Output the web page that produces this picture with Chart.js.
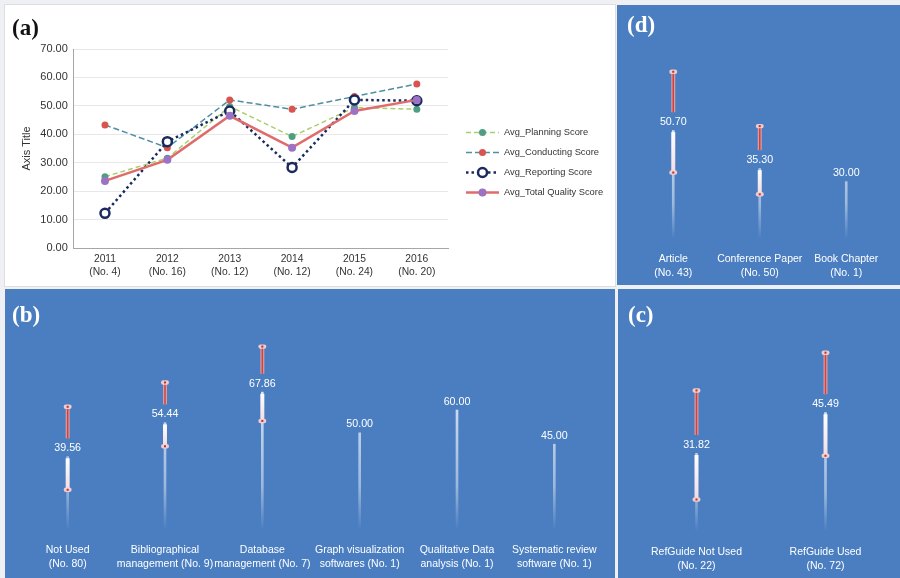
<!DOCTYPE html>
<html>
<head>
<meta charset="utf-8">
<script src="https://cdn.jsdelivr.net/npm/chart.js@4"></script>
<style>
  body { margin: 0; width: 900px; height: 578px; position: relative; overflow: hidden; background: #eef0f3; }
  .panel { position: absolute; }
  .panel canvas { position: absolute; left: 0; top: 0; }
  .blue { background: #4a7ec1; }
  .tag { position: absolute; font-family: "Liberation Serif", "Times New Roman", serif; font-weight: bold; font-size: 23px; line-height: 1; color: #fff; }
</style>
</head>
<body>
<div class="panel" style="left:5px;top:5px;width:610px;height:281px;background:#fff;box-shadow:0 0 0 1px #dedede">
  <canvas id="chartA" width="610" height="281"></canvas>
  <div class="tag" style="left:7px;top:11px;color:#111">(a)</div>
</div>
<div class="panel blue" style="left:617px;top:5px;width:283px;height:280px">
  <canvas id="chartD" width="283" height="280"></canvas>
  <div class="tag" style="left:10px;top:8px">(d)</div>
</div>
<div class="panel blue" style="left:5px;top:289px;width:610px;height:289px">
  <canvas id="chartB" width="610" height="289"></canvas>
  <div class="tag" style="left:7px;top:14px">(b)</div>
</div>
<div class="panel blue" style="left:618px;top:289px;width:282px;height:289px">
  <canvas id="chartC" width="282" height="289"></canvas>
  <div class="tag" style="left:10px;top:14px">(c)</div>
</div>

<script>
// (a) quality scores per year
const yearLabels = [['2011', '(No. 4)'], ['2012', '(No. 16)'], ['2013', '(No. 12)'], ['2014', '(No. 12)'], ['2015', '(No. 24)'], ['2016', '(No. 20)']];
const planningScores = [25.1, 31.6, 49.8, 39.2, 49.4, 48.8];
const conductingScores = [43.3, 35.3, 52.1, 48.8, 53.3, 57.7];
const reportingScores = [12.2, 37.4, 48.2, 28.3, 52.1, 51.8];
const totalScores = [23.6, 31.0, 46.5, 35.3, 48.2, 52.1];
const yTicksA = [0, 10, 20, 30, 40, 50, 60, 70];

// (b) tools used
const toolLabels = [['Not Used', '(No. 80)'], ['Bibliographical', 'management (No. 9)'], ['Database', 'management (No. 7)'],
    ['Graph visualization', 'softwares (No. 1)'], ['Qualitative Data', 'analysis (No. 1)'], ['Systematic review', 'software (No. 1)']];
const toolMeans = [39.56, 54.44, 67.86, 50.00, 60.00, 45.00];
const toolSpread = [18.2, 14.0, 16.3, null, null, null];

// (c) reference guide
const guideLabels = [['RefGuide Not Used', '(No. 22)'], ['RefGuide Used', '(No. 72)']];
const guideMeans = [31.82, 45.49];
const guideSpread = [18.3, 17.3];

// (d) publication type
const pubLabels = [['Article', '(No. 43)'], ['Conference Paper', '(No. 50)'], ['Book Chapter', '(No. 1)']];
const pubMeans = [50.70, 35.30, 30.00];
const pubSpread = [20.4, 13.8, null];

const panelBlue = '#4a7ec1';
Chart.defaults.font.family = '"Liberation Sans", Arial, sans-serif';

// legend drawn at the right of panel (a), line sample with its marker
const sideLegend = {
    id: 'sideLegend',
    afterDraw(chart) {
        const ctx = chart.ctx;
        const x0 = chart.chartArea.right + 18;
        chart.data.datasets.forEach((ds, i) => {
            const y = 127.5 + i * 20;
            ctx.save();
            ctx.strokeStyle = ds.borderColor;
            ctx.lineWidth = ds.borderWidth;
            ctx.setLineDash(ds.borderDash || []);
            ctx.beginPath();
            ctx.moveTo(x0, y);
            ctx.lineTo(x0 + 33, y);
            ctx.stroke();
            ctx.setLineDash([]);
            ctx.beginPath();
            ctx.arc(x0 + 16.5, y, ds.pointRadius, 0, Math.PI * 2);
            ctx.fillStyle = ds.pointBackgroundColor;
            ctx.fill();
            if (ds.pointBorderWidth) {
                ctx.lineWidth = ds.pointBorderWidth;
                ctx.strokeStyle = ds.pointBorderColor;
                ctx.stroke();
            }
            ctx.fillStyle = '#333';
            ctx.font = '9.3px "Liberation Sans", Arial, sans-serif';
            ctx.textBaseline = 'middle';
            ctx.fillText(ds.label, x0 + 38, y);
            ctx.restore();
        });
    }
};

new Chart(document.getElementById('chartA'), {
    type: 'line',
    data: {
        labels: yearLabels,
        datasets: [
            {
                label: 'Avg_Planning Score', data: planningScores, order: 3,
                borderColor: '#a9cf6c', borderWidth: 1.5, borderDash: [5, 3],
                pointRadius: 3.5, pointBackgroundColor: '#4f9e82', pointBorderColor: '#4f9e82', pointBorderWidth: 0,
            },
            {
                label: 'Avg_Conducting Score', data: conductingScores, order: 2,
                borderColor: '#4e8fa3', borderWidth: 1.5, borderDash: [6, 3],
                pointRadius: 3.5, pointBackgroundColor: '#d9534f', pointBorderColor: '#d9534f', pointBorderWidth: 0,
            },
            {
                label: 'Avg_Reporting Score', data: reportingScores, order: 1,
                borderColor: '#1b2a5e', borderWidth: 2.5, borderDash: [2.5, 3],
                pointRadius: 4.5, pointBackgroundColor: '#ffffff', pointBorderColor: '#1b2a5e', pointBorderWidth: 2.5,
            },
            {
                label: 'Avg_Total Quality Score', data: totalScores, order: 0,
                borderColor: '#e06b6b', borderWidth: 2.5,
                pointRadius: 4, pointBackgroundColor: '#9b72c4', pointBorderColor: '#9b72c4', pointBorderWidth: 0,
            },
        ],
    },
    options: {
        responsive: false,
        animation: false,
        layout: { padding: { top: 44, right: 167, left: 11, bottom: 0 } },
        plugins: { legend: { display: false }, tooltip: { enabled: false } },
        scales: {
            x: {
                offset: true,
                grid: { display: false, drawTicks: false },
                border: { color: '#a6a6a6' },
                ticks: { color: '#333', font: { size: 10.3, lineHeight: 1.27 }, padding: 5, maxRotation: 0 },
                afterFit: s => { s.height = 38; },
            },
            y: {
                min: 0,
                max: 70,
                afterBuildTicks: s => { s.ticks = yTicksA.map(v => ({ value: v })); },
                ticks: { color: '#333', font: { size: 11 }, padding: 6, callback: v => v.toFixed(2) },
                grid: { color: '#e8e8e8', drawTicks: false },
                border: { color: '#a6a6a6' },
                title: { display: true, text: 'Axis Title', color: '#333', font: { size: 11 }, padding: 4 },
                afterFit: s => { s.width = 57.8; },
            },
        },
    },
    plugins: [sideLegend],
});

// mean +/- spread drawn over the thin bars, value label at the mean
function drawCap(ctx, x, y) {
    ctx.fillStyle = 'rgba(246, 208, 208, 0.95)';
    ctx.beginPath();
    ctx.roundRect(x - 4, y - 2.2, 8, 4.4, 2.2);
    ctx.fill();
    ctx.fillStyle = '#b8322c';
    ctx.fillRect(x - 1, y - 1, 2, 2);
}

const errorBars = {
    id: 'errorBars',
    afterDatasetsDraw(chart) {
        const ctx = chart.ctx;
        const yScale = chart.scales.y;
        const ds = chart.data.datasets[0];
        chart.getDatasetMeta(0).data.forEach((bar, i) => {
            const x = bar.x;
            const mean = ds.data[i];
            const yMean = yScale.getPixelForValue(mean);
            const spread = ds.spread[i];
            ctx.save();
            if (spread) {
                const yTop = yScale.getPixelForValue(mean + spread);
                const yLow = yScale.getPixelForValue(mean - spread);
                ctx.fillStyle = 'rgba(232, 160, 160, 0.9)';
                ctx.fillRect(x - 2, yTop, 4, yMean - 10 - yTop);
                ctx.fillStyle = '#d2413c';
                ctx.fillRect(x - 0.75, yTop, 1.5, yMean - 10 - yTop);
                const g = ctx.createLinearGradient(0, yMean + 10, 0, yLow);
                g.addColorStop(0, 'rgba(255, 255, 255, 0.98)');
                g.addColorStop(1, 'rgba(246, 222, 226, 0.95)');
                ctx.fillStyle = g;
                ctx.fillRect(x - 2, yMean + 10, 4, yLow - yMean - 10);
                drawCap(ctx, x, yTop);
                drawCap(ctx, x, yLow);
            }
            ctx.font = '10.7px "Liberation Sans", Arial, sans-serif';
            const text = mean.toFixed(2);
            const w = ctx.measureText(text).width;
            ctx.fillStyle = panelBlue;
            ctx.fillRect(x - w / 2 - 2, yMean - 8, w + 4, 16);
            ctx.fillStyle = '#fff';
            ctx.textAlign = 'center';
            ctx.textBaseline = 'middle';
            ctx.fillText(text, x, yMean);
            ctx.restore();
        });
    }
};

function makeSpreadChart(id, labels, means, spread, max, pad, axisHeight) {
    return new Chart(document.getElementById(id), {
        type: 'bar',
        data: {
            labels: labels,
            datasets: [{
                data: means,
                spread: spread,
                barThickness: 2,
                backgroundColor: (context) => {
                    const chart = context.chart;
                    const area = chart.chartArea;
                    if (!area) {
                        return 'rgba(255, 255, 255, 0.6)';
                    }
                    const top = chart.scales.y.getPixelForValue(Math.max(...means));
                    const g = chart.ctx.createLinearGradient(0, top, 0, area.bottom - 8);
                    g.addColorStop(0, 'rgba(255, 255, 255, 0.8)');
                    g.addColorStop(0.7, 'rgba(255, 255, 255, 0.45)');
                    g.addColorStop(1, 'rgba(255, 255, 255, 0)');
                    return g;
                },
            }],
        },
        options: {
            responsive: false,
            animation: false,
            layout: { padding: pad },
            plugins: { legend: { display: false }, tooltip: { enabled: false } },
            scales: {
                x: {
                    grid: { display: false, drawTicks: false },
                    border: { display: false },
                    ticks: { color: '#fff', font: { size: 10.5, lineHeight: 1.33 }, padding: 5, maxRotation: 0, autoSkip: false },
                    afterFit: s => { s.height = axisHeight; },
                },
                y: { display: false, min: 0, max: max },
            },
        },
        plugins: [errorBars],
    });
}

makeSpreadChart('chartB', toolLabels, toolMeans, toolSpread, 100, { top: 21.5, left: 14, right: 12, bottom: 0 }, 39.5);
makeSpreadChart('chartC', guideLabels, guideMeans, guideSpread, 75, { top: 27.3, left: 14, right: 10, bottom: 0 }, 38.2);
makeSpreadChart('chartD', pubLabels, pubMeans, pubSpread, 90, { top: 20.1, left: 13, right: 10.5, bottom: 0 }, 37.6);
</script>
</body>
</html>
